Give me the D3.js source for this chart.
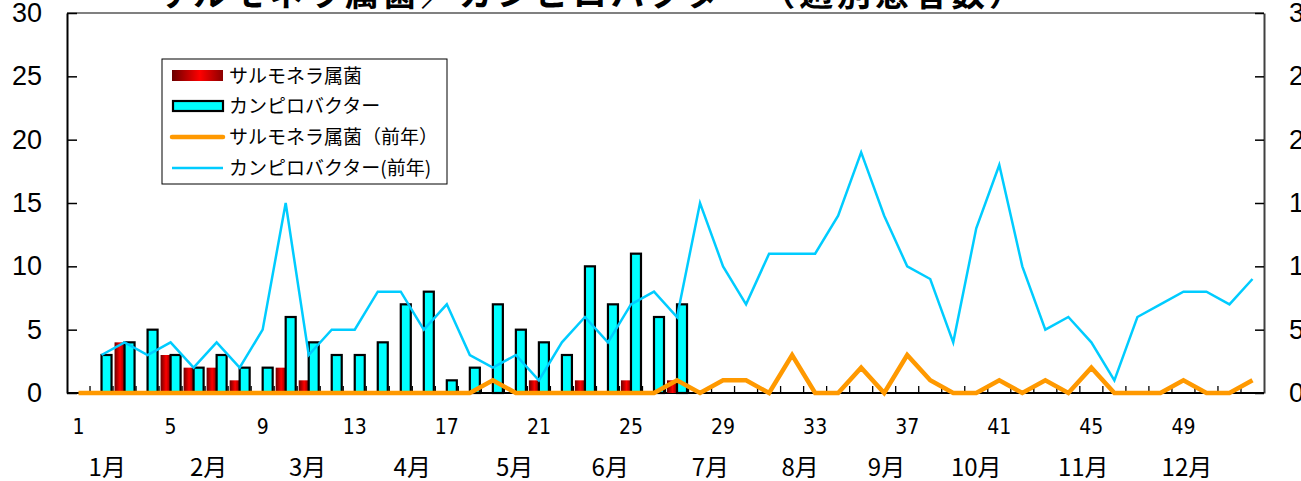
<!DOCTYPE html>
<html>
<head>
<meta charset="utf-8">
<script src="https://cdn.jsdelivr.net/npm/d3@7/dist/d3.min.js"></script>
<style>
body { margin: 0; background: #fff; }
svg { display: block; }
</style>
</head>
<body>
<div class="chart"></div>
<script>
// data - weekly patient counts
const weeks = d3.range(1, 53);
const salmonella = [0,0,4,0,3,2,2,1,0,2, 1,0,0,0,0,0,0,0,0,0, 1,0,1,0,1,0,1];
const campylo    = [0,3,4,5,3,2,3,2,2,6, 4,3,3,4,7,8,1,2,7,5, 4,3,10,7,11,6,7];
const salmonellaPrev = [0,0,0,0,0,0,0,0,0,0, 0,0,0,0,0,0,0,0,1,0,
                        0,0,0,0,0,0,1,0,1,1, 0,3,0,0,2,0,3,1,0,0,
                        1,0,1,0,2,0,0,0,1,0, 0,1];
const campyloPrev = [null,3,4,3,4,2,4,2,5,15, 3,5,5,8,8,5,7,3,2,3,
                     1,4,6,4,7,8,6,15,10,7, 11,11,11,14,19,14,10,9,4,13,
                     18,10,5,6,4,1,6,7,8,8, 7,9];
const weekLabels = [1,5,9,13,17,21,25,29,33,37,41,45,49];
const months = ['1月','2月','3月','4月','5月','6月','7月','8月','9月','10月','11月','12月'];
const monthWeeks = [2.25,6.65,10.95,15.5,19.95,24.1,28.45,32.35,36.1,40,44.65,49.15];
const yTicks = [0,5,10,15,20,25,30];
const title = 'サルモネラ属菌／カンピロバクター（週別患者数）';
const legendNames = ['サルモネラ属菌','カンピロバクター','サルモネラ属菌（前年）','カンピロバクター(前年)'];

const W = 1301, H = 481;
const mLeft = 67, mRight = 1264, mTop = 13, mBottom = 393;
const jp = '"Noto Sans CJK JP", sans-serif';

let svg = d3.select('.chart').append('svg').attr('width', W).attr('height', H);

// gradient for salmonella bars
let grad = svg.append('defs').append('linearGradient').attr('id', 'red').attr('x1', 0).attr('x2', 1);
grad.append('stop').attr('offset', '0%').attr('stop-color', '#6a0000');
grad.append('stop').attr('offset', '55%').attr('stop-color', '#ff0000');
grad.append('stop').attr('offset', '100%').attr('stop-color', '#8a0000');

let x = d3.scaleBand().domain(weeks).range([mLeft, mRight]);
let xs = d3.scaleBand().domain(['s', 'c']).range([0, x.bandwidth()]).paddingOuter(0.15);
let y = d3.scaleLinear().domain([0, 30]).range([mBottom, mTop]);
let xc = (w) => x(w) + x.bandwidth() / 2;

// title (cut at top like the reference)
svg.append('text')
    .attr('x', 155).attr('y', 6)
    .attr('textLength', 868).attr('lengthAdjust', 'spacing')
    .style('font-family', jp).style('font-size', '34px').style('font-weight', 'bold')
    .text(title);

// frame
svg.append('line').attr('x1', mLeft).attr('x2', mRight).attr('y1', mTop).attr('y2', mTop)
    .attr('stroke', '#808080').attr('stroke-width', 2);

// y axes
let yAxisL = svg.append('g').attr('transform', 'translate(' + mLeft + ',0)')
    .call(d3.axisLeft(y).tickValues(yTicks).tickSizeInner(-10).tickSizeOuter(0).tickPadding(25));
let yAxisR = svg.append('g').attr('transform', 'translate(' + mRight + ',0)')
    .call(d3.axisRight(y).tickValues(yTicks).tickSizeInner(-9).tickSizeOuter(0).tickPadding(25));
[yAxisL, yAxisR].forEach((g) => {
    g.select('.domain').attr('stroke', '#000').attr('stroke-width', 2);
    g.selectAll('.tick line').attr('stroke', '#000').attr('stroke-width', 1.5);
    g.selectAll('text').style('font-family', '"Liberation Sans", Arial, sans-serif')
        .style('font-size', '27px').attr('fill', '#000');
});
yAxisR.select('.domain').attr('stroke', '#404040');

// bottom axis: ticks at week boundaries, labels every 4 weeks
svg.append('line').attr('x1', mLeft).attr('x2', mRight).attr('y1', mBottom).attr('y2', mBottom)
    .attr('stroke', '#000').attr('stroke-width', 2);
svg.append('g').selectAll('line').data(weeks.slice(1)).enter().append('line')
    .attr('x1', (d) => x(d)).attr('x2', (d) => x(d))
    .attr('y1', mBottom).attr('y2', mBottom - 7)
    .attr('stroke', '#000').attr('stroke-width', 1.3);
let xAxis = svg.append('g').attr('transform', 'translate(0,' + mBottom + ')')
    .call(d3.axisBottom(x).tickValues(weekLabels).tickSize(0).tickPadding(26));
xAxis.select('.domain').remove();
xAxis.selectAll('text')
    .style('font-family', '"Liberation Sans Narrow", "DejaVu Sans Condensed", sans-serif')
    .style('font-stretch', 'condensed').style('font-size', '21px').attr('fill', '#000');

// month labels
svg.append('g').selectAll('text').data(months).enter().append('text')
    .attr('x', (d, i) => mLeft + (monthWeeks[i] - 0.5) * x.step())
    .attr('y', 476)
    .attr('text-anchor', 'middle')
    .style('font-family', jp).style('font-size', '24px')
    .text((d) => d);

// bars
let barData = campylo.map((c, i) => ({w: weeks[i], s: salmonella[i], c: c}));
svg.append('g').selectAll('rect').data(barData.filter((d) => d.s > 0)).enter().append('rect')
    .attr('x', (d) => x(d.w) + xs('s'))
    .attr('y', (d) => y(d.s))
    .attr('width', xs.bandwidth())
    .attr('height', (d) => y(0) - y(d.s))
    .attr('fill', 'url(#red)');
svg.append('g').selectAll('rect').data(barData.filter((d) => d.c > 0)).enter().append('rect')
    .attr('x', (d) => x(d.w) + xs('c'))
    .attr('y', (d) => y(d.c))
    .attr('width', xs.bandwidth())
    .attr('height', (d) => y(0) - y(d.c))
    .attr('fill', '#00ffff').attr('stroke', '#000').attr('stroke-width', 2.2);

// previous year lines
let line = d3.line().defined((d) => d != null).x((d, i) => xc(weeks[i])).y((d) => y(d));
svg.append('path').datum(campyloPrev).attr('d', line)
    .attr('fill', 'none').attr('stroke', '#00ccff').attr('stroke-width', 2.5);
svg.append('path').datum(salmonellaPrev).attr('d', line)
    .attr('fill', 'none').attr('stroke', '#ff9900').attr('stroke-width', 4.5)
    .attr('stroke-linejoin', 'miter');

// legend
let lg = svg.append('g').attr('transform', 'translate(162,59)');
lg.append('rect').attr('width', 285).attr('height', 125).attr('fill', '#fff')
    .attr('stroke', '#000').attr('stroke-width', 1);
let rows = lg.selectAll('g').data(legendNames).enter().append('g')
    .attr('transform', (d, i) => 'translate(10,' + [17, 47, 78, 109][i] + ')');
rows.filter((d, i) => i == 0).append('rect')
    .attr('x', 0).attr('y', -6).attr('width', 51).attr('height', 11).attr('fill', 'url(#red)');
rows.filter((d, i) => i == 1).append('rect')
    .attr('x', 1).attr('y', -5).attr('width', 50).attr('height', 10)
    .attr('fill', '#00ffff').attr('stroke', '#000').attr('stroke-width', 2.2);
rows.filter((d, i) => i == 2).append('line')
    .attr('x1', 0).attr('x2', 51).attr('stroke', '#ff9900').attr('stroke-width', 4.5).attr('stroke-linecap', 'round');
rows.filter((d, i) => i == 3).append('line')
    .attr('x1', 0).attr('x2', 51).attr('stroke', '#00ccff').attr('stroke-width', 2.5);
rows.append('text')
    .attr('x', 57).attr('dy', '0.35em')
    .style('font-family', jp).style('font-size', '19px')
    .text((d) => d);
</script>
</body>
</html>
